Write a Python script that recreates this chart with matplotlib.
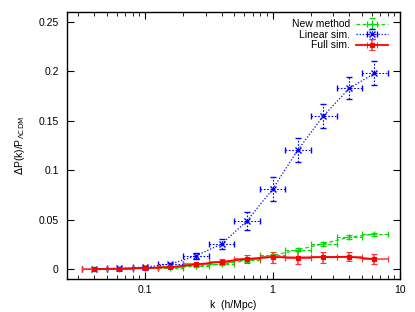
import numpy as np
import matplotlib
matplotlib.use("Agg")
import matplotlib.pyplot as plt
from matplotlib.ticker import LogLocator, NullFormatter, FixedLocator

plt.rcParams['font.family'] = ['Liberation Sans', 'DejaVu Sans']

k = [0.04, 0.063, 0.1, 0.158, 0.25, 0.4, 0.63, 1.0, 1.58, 2.5, 4.0, 6.3]
k_lo = [0.032, 0.05, 0.08, 0.126, 0.2, 0.32, 0.5, 0.8, 1.26, 2.0, 3.2, 5.0]
k_hi = [0.05, 0.08, 0.126, 0.2, 0.32, 0.5, 0.8, 1.26, 2.0, 3.2, 5.0, 8.0]

new_method = [0.0, 0.0003, 0.0008, 0.0015, 0.003, 0.005, 0.0087, 0.0138, 0.0195, 0.0256, 0.0323, 0.0353]
new_err = [0.0003, 0.0004, 0.0005, 0.0006, 0.0008, 0.001, 0.0012, 0.0014, 0.0016, 0.0018, 0.0018, 0.0016]

linear_sim = [0.0002, 0.0007, 0.002, 0.005, 0.0134, 0.0255, 0.0488, 0.0808, 0.1205, 0.1548, 0.1828, 0.198]
linear_err = [0.0003, 0.0005, 0.0008, 0.0015, 0.003, 0.005, 0.009, 0.012, 0.012, 0.012, 0.011, 0.012]

full_sim = [0.0, 0.0005, 0.001, 0.002, 0.0047, 0.0074, 0.0104, 0.0121, 0.0117, 0.0121, 0.0124, 0.0101]
full_err = [0.0004, 0.0006, 0.0008, 0.001, 0.0015, 0.0025, 0.0038, 0.0057, 0.0067, 0.0055, 0.0047, 0.0054]

fig = plt.figure(figsize=(4.15, 3.12), dpi=100)
ax = fig.add_axes([0.1614, 0.1058, 0.8025, 0.8557])

def xerr(kv):
    return [np.array(kv) - np.array(k_lo), np.array(k_hi) - np.array(kv)]

g = ax.errorbar(k, new_method, yerr=new_err, xerr=xerr(k), color='#00dd00', ls=(0, (3, 2)),
                lw=0.9, marker='+', ms=5, mew=0.9, capsize=2, elinewidth=0.8, label='New method')
for bar in g[2]:
    bar.set_linestyle((0, (3, 2)))
b = ax.errorbar(k, linear_sim, yerr=linear_err, xerr=xerr(k), color='#0000ff', ls=(0, (1, 1.5)),
                lw=0.9, marker='x', ms=4, mew=1.0, capsize=2, elinewidth=0.8, label='Linear sim.')
for bar in b[2]:
    bar.set_linestyle((0, (1.5, 1.5)))
r = ax.errorbar(k, full_sim, yerr=full_err, xerr=xerr(k), color='#ff0000', ls='-',
                lw=1.3, marker='s', ms=3.5, mew=0.8, capsize=2, elinewidth=1.1, ecolor='#ff3333',
                label='Full sim.')

ax.set_xscale('log')
ax.set_xlim(0.0244, 10)
ax.set_ylim(-0.01, 0.26)
ax.xaxis.set_major_locator(FixedLocator([0.1, 1, 10]))
ax.set_xticklabels(['0.1', '1', '10'])
ax.xaxis.set_minor_locator(LogLocator(base=10, subs=np.arange(2, 10), numticks=20))
ax.xaxis.set_minor_formatter(NullFormatter())
ax.set_yticks([0, 0.05, 0.1, 0.15, 0.2, 0.25])
ax.set_yticklabels(['0', '0.05', '0.1', '0.15', '0.2', '0.25'])
ax.tick_params(which='both', direction='in', top=True, right=True, labelsize=7.5)
ax.tick_params(axis='y', pad=6)
ax.tick_params(axis='x', pad=4)
ax.tick_params(which='major', length=5, width=0.8)
ax.tick_params(which='minor', length=3, width=0.6)
for s in ax.spines.values():
    s.set_linewidth(1.0)

ax.set_xlabel('k  (h/Mpc)', fontsize=7.5, labelpad=4)
ax.set_ylabel(r'$\Delta$P(k)/P$_{\Lambda\mathrm{CDM}}$', fontsize=7.5, labelpad=8)

ax.legend(loc='upper right', frameon=False, markerfirst=False, fontsize=7.5,
          handlelength=3.0, handletextpad=0.6, labelspacing=0.05,
          borderaxespad=0.3, bbox_to_anchor=(0.985, 1.0))

fig.savefig('out.png', dpi=100)
